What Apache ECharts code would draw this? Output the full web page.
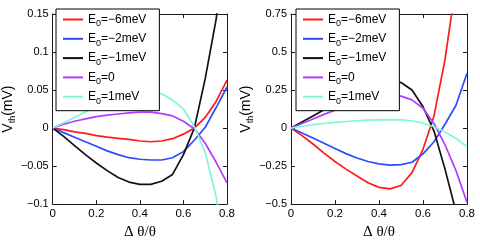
<!DOCTYPE html>
<html>
<head>
<meta charset="utf-8">
<script src="https://cdn.jsdelivr.net/npm/echarts@6/dist/echarts.min.js"></script>
<style>
html,body{margin:0;padding:0;background:#fff;}
#chart{width:480px;height:245px;}
</style>
</head>
<body>
<div id="chart"></div>
<script>
// ---- data ----
const xs = [0,0.05,0.1,0.15,0.2,0.25,0.3,0.35,0.4,0.45,0.5,0.55,0.6,0.65,0.7,0.75,0.8];
const seriesNames = ['E0=−6meV','E0=−2meV','E0=−1meV','E0=0','E0=1meV'];
const legendLabels = ['=−6meV','=−2meV','=−1meV','=0','=1meV'];
const colors = ['#ff1a1a','#2a4bff','#111111','#b23cff','#7ff7dc'];

// left panel
const L_m6 = [0,-0.002,-0.005,-0.007,-0.010,-0.012,-0.0135,-0.015,-0.017,-0.018,-0.017,-0.014,-0.008,0.0,0.014,0.035,0.063];
const L_m2 = [0,-0.006,-0.012,-0.018,-0.024,-0.030,-0.035,-0.039,-0.041,-0.042,-0.042,-0.039,-0.031,-0.016,0.001,0.027,0.054];
const L_m1 = [0,-0.011,-0.023,-0.035,-0.046,-0.056,-0.065,-0.071,-0.074,-0.074,-0.070,-0.061,-0.035,0.0,0.065,0.143,0.25];
const L_0  = [0,0.005,0.009,0.012,0.015,0.017,0.0185,0.020,0.021,0.021,0.019,0.016,0.009,-0.001,-0.020,-0.045,-0.072];
const L_p1 = [0,0.007,0.014,0.021,0.028,0.034,0.039,0.043,0.046,0.047,0.045,0.037,0.025,0.002,-0.032,-0.090,-0.170];

// right panel
const R_m6 = [0,-0.05,-0.105,-0.165,-0.22,-0.27,-0.315,-0.36,-0.39,-0.40,-0.378,-0.293,-0.14,0.08,0.45,0.95,1.5];
const R_m2 = [0,-0.033,-0.066,-0.10,-0.135,-0.168,-0.197,-0.22,-0.236,-0.244,-0.24,-0.225,-0.17,-0.09,0.025,0.15,0.36];
const R_m1 = [0,0.04,0.08,0.12,0.16,0.195,0.23,0.26,0.285,0.30,0.30,0.25,0.14,-0.02,-0.27,-0.55,-0.9];
const R_0  = [0,0.03,0.06,0.09,0.117,0.145,0.17,0.19,0.205,0.213,0.21,0.185,0.13,0.03,-0.11,-0.28,-0.49];
const R_p1 = [0,0.012,0.022,0.03,0.037,0.043,0.048,0.052,0.054,0.055,0.054,0.048,0.032,0.009,-0.026,-0.069,-0.122];

// ticks
const xTickLabels = ['0','0.2','0.4','0.6','0.8'];
const yTickLabelsL = ['−0.1','−0.05','0','0.05','0.1','0.15'];
const yTickLabelsR = ['−0.5','−0.25','0','0.25','0.5','0.75'];

// ---- chart ----
const SANS = 'Liberation Sans, Arial, sans-serif';
const AX = '#1a1a1a';
const chart = echarts.init(document.getElementById('chart'), null, {renderer:'canvas'});

function pick(labels, min, step){ return v => labels[Math.round((v-min)/step)] || ''; }

function xAxes(gi){
  return [
    {gridIndex:gi, type:'value', min:0, max:0.8, interval:0.2, position:'bottom',
     axisLine:{show:true, onZero:false, lineStyle:{color:AX, width:1}},
     axisTick:{show:true, inside:true, length:4, lineStyle:{color:AX}},
     axisLabel:{show:true, margin:4, color:'#000', fontSize:11.5, fontFamily:SANS, formatter:pick(xTickLabels,0,0.2)},
     splitLine:{show:false},
     name:'Δ θ/θ', nameLocation:'middle', nameGap:20,
     nameTextStyle:{fontFamily:'Liberation Serif, Times New Roman, serif', fontSize:15, color:'#000'}},
    {gridIndex:gi, type:'value', min:0, max:0.8, interval:0.2, position:'top',
     axisLine:{show:true, onZero:false, lineStyle:{color:AX, width:1}},
     axisTick:{show:true, inside:true, length:4, lineStyle:{color:AX}},
     axisLabel:{show:false}, splitLine:{show:false}}
  ];
}
function yAxes(gi, min, max, step, labels){
  return [
    {gridIndex:gi, type:'value', min:min, max:max, interval:step, position:'left',
     axisLine:{show:true, onZero:false, lineStyle:{color:AX, width:1}},
     axisTick:{show:true, inside:true, length:4, lineStyle:{color:AX}},
     axisLabel:{show:true, margin:4, color:'#000', fontSize:11, fontFamily:SANS, formatter:pick(labels,min,step)},
     splitLine:{show:false},
     name:'{v|V}{t|th}{v|(mV)}', nameLocation:'middle', nameGap:33, nameRotate:90,
     nameTextStyle:{color:'#000', fontFamily:SANS,
       rich:{v:{fontSize:14, fontFamily:SANS, color:'#000', lineHeight:18},
             t:{fontSize:9, fontFamily:SANS, color:'#000', verticalAlign:'bottom'}}}},
    {gridIndex:gi, type:'value', min:min, max:max, interval:step, position:'right',
     axisLine:{show:true, onZero:false, lineStyle:{color:AX, width:1}},
     axisTick:{show:true, inside:true, length:4, lineStyle:{color:AX}},
     axisLabel:{show:false}, splitLine:{show:false}}
  ];
}

function mk(name, vals, idx, xi, yi){
  return {name:name, type:'line', xAxisIndex:xi, yAxisIndex:yi,
    data: xs.map((x,i)=>[x, vals[i]]), symbol:'none', smooth:false, clip:true,
    lineStyle:{color:colors[idx], width:1.7}, itemStyle:{color:colors[idx]}, z:2};
}

function legend(left){
  return {
    left:left, top:9, orient:'vertical', z:10,
    data: seriesNames.map(n=>({name:n, icon:'rect'})),
    itemWidth:20, itemHeight:2, itemGap:4.3,
    padding:[4.5,13,5,7],
    backgroundColor:'#fff', borderColor:'#000', borderWidth:1, borderRadius:0,
    selectedMode:false,
    formatter: n => '{a|E}{s|0}{a|' + legendLabels[seriesNames.indexOf(n)] + '}',
    textStyle:{color:'#000', fontFamily:SANS, fontSize:12,
      rich:{a:{fontSize:12, fontFamily:SANS, color:'#000', lineHeight:18},
            s:{fontSize:9, fontFamily:SANS, color:'#000', verticalAlign:'bottom'}}}
  };
}

const series = [];
[L_m6,L_m2,L_m1,L_0,L_p1].forEach((d,i)=>series.push(mk(seriesNames[i], d, i, 0, 0)));
[R_m6,R_m2,R_m1,R_0,R_p1].forEach((d,i)=>series.push(mk(seriesNames[i], d, i, 2, 2)));

chart.setOption({
  animation:false,
  backgroundColor:'#fff',
  grid:[
    {left:51, top:14, width:176, height:195, containLabel:false},
    {left:291, top:14, width:176, height:195, containLabel:false}
  ],
  xAxis: xAxes(0).concat(xAxes(1)),
  yAxis: yAxes(0,-0.1,0.15,0.05,yTickLabelsL).concat(yAxes(1,-0.5,0.75,0.25,yTickLabelsR)),
  legend:[legend(56), legend(296)],
  series: series
});
</script>
</body>
</html>
